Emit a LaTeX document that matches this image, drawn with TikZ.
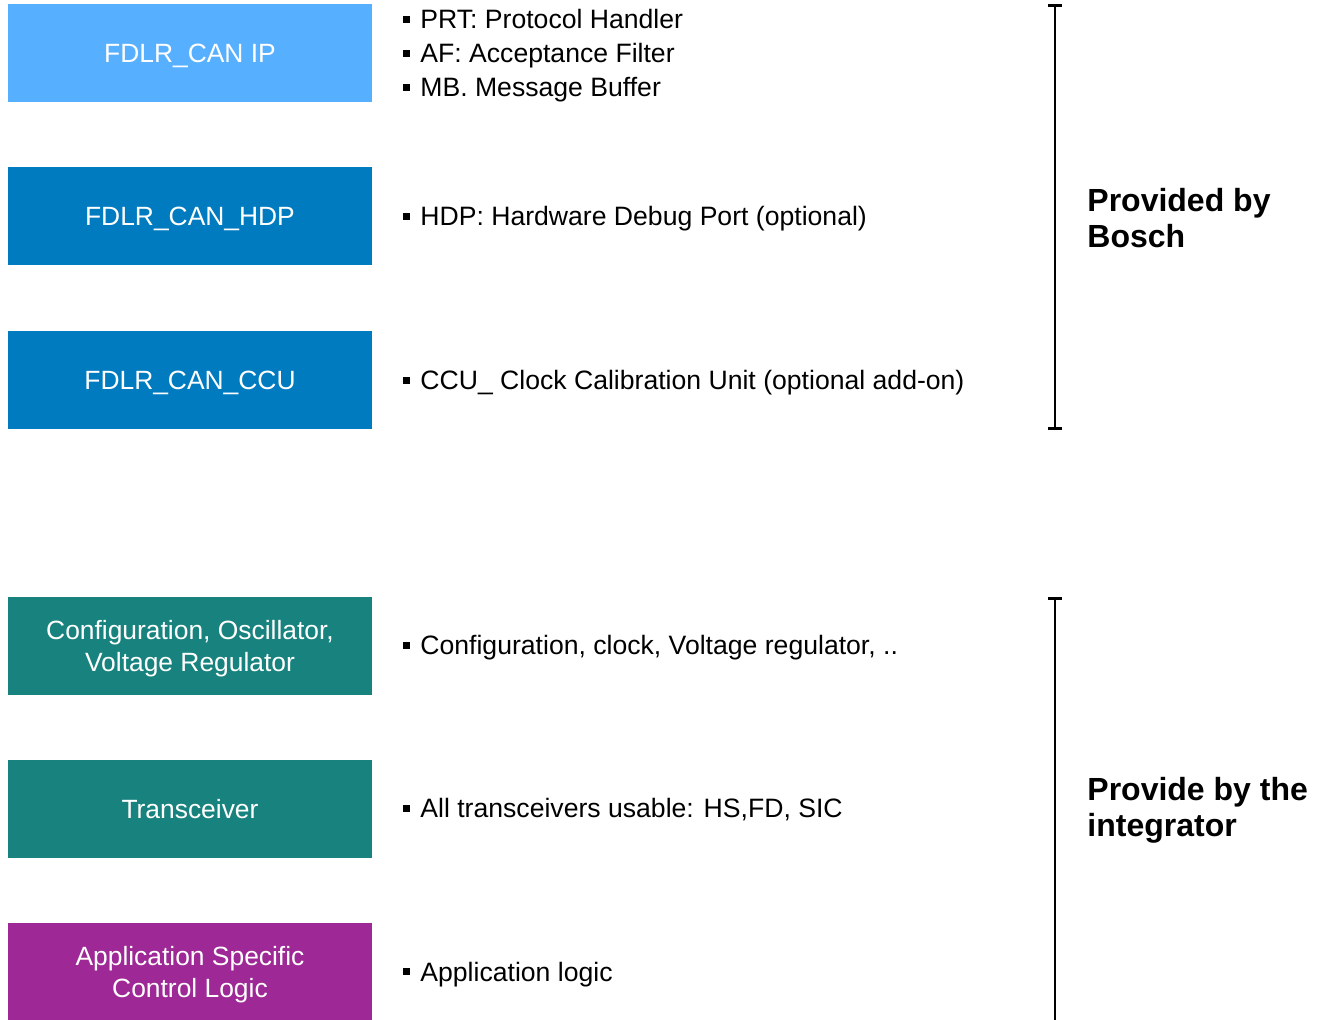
\documentclass[tikz,border=0pt]{standalone}
\usepackage{fontspec}
\setmainfont{Liberation Sans}
\usetikzlibrary{positioning,arrows.meta}
\definecolor{boschlight}{HTML}{56B0FF}
\definecolor{boschblue}{HTML}{007BC0}
\definecolor{boschteal}{HTML}{18837E}
\definecolor{boschpurple}{HTML}{9E2896}
\newcommand{\sqbullet}{\rule[3pt]{3.5pt}{3.5pt}\hspace{5pt}}

\begin{document}
\begin{tikzpicture}[x=0.5pt,y=-0.5pt]
  \tikzset{
block/.style={rectangle,minimum width=182pt,minimum height=49pt,inner sep=0,text depth=0pt,text=white,align=center,font=\fontsize{13.2}{16}\selectfont},
item/.style={anchor=base west,inner sep=0,font=\fontsize{13.3}{17}\selectfont},
side label/.style={anchor=west,inner sep=0,align=left,font=\fontsize{16}{18}\selectfont\bfseries},
bracket/.style={line width=1.4pt}
}
  \useasboundingbox (0,0) rectangle (1318,1020);
  % blocks
  \node[block,fill=boschlight](ip) at (190,53){FDLR\_CAN IP};
  \node[block,fill=boschblue](hdp) at (190,216){FDLR\_CAN\_HDP};
  \node[block,fill=boschblue](ccu) at (190,380){FDLR\_CAN\_CCU};
  \node[block,fill=boschteal](conf) at (190,646){Configuration, Oscillator,\\Voltage Regulator};
  \node[block,fill=boschteal](trx) at (190,809){Transceiver};
  \node[block,fill=boschpurple](app) at (190,972){Application Specific\\Control Logic};
  % descriptions
  \node[item](prt) at (403,29){\sqbullet PRT: Protocol Handler};
  \node[item](af) at (403,63){\sqbullet AF: Acceptance Filter};
  \node[item](mb) at (403,97){\sqbullet MB. Message Buffer};
  \node[item](hdp text) at (403,226){\sqbullet HDP: Hardware Debug Port (optional)};
  \node[item](ccu text) at (403,390){\sqbullet CCU\_ Clock Calibration Unit (optional add-on)};
  \node[item](conf text) at (403,655){\sqbullet Configuration, clock, Voltage regulator, ..};
  \node[item](trx text) at (403,818){\sqbullet All transceivers usable: HS,FD, SIC};
  \node[item](app text) at (403,981){\sqbullet Application logic};
  % brackets
  \coordinate (bosch top) at (1055,4);
  \coordinate (bosch bottom) at (1055,430);
  \coordinate (integ top) at (1055,597);
  \coordinate (integ bottom) at (1055,1020);
  \draw[bracket,{Bar[width=7pt]}-{Bar[width=7pt]}] (bosch top) -- (bosch bottom);
  \draw[bracket,{Bar[width=7pt]}-] (integ top) -- (integ bottom);
  \node[side label](bosch) at (1087,218){Provided by\\Bosch};
  \node[side label](integ) at (1087,810){Provide by the\\integrator};
\end{tikzpicture}
\end{document}
